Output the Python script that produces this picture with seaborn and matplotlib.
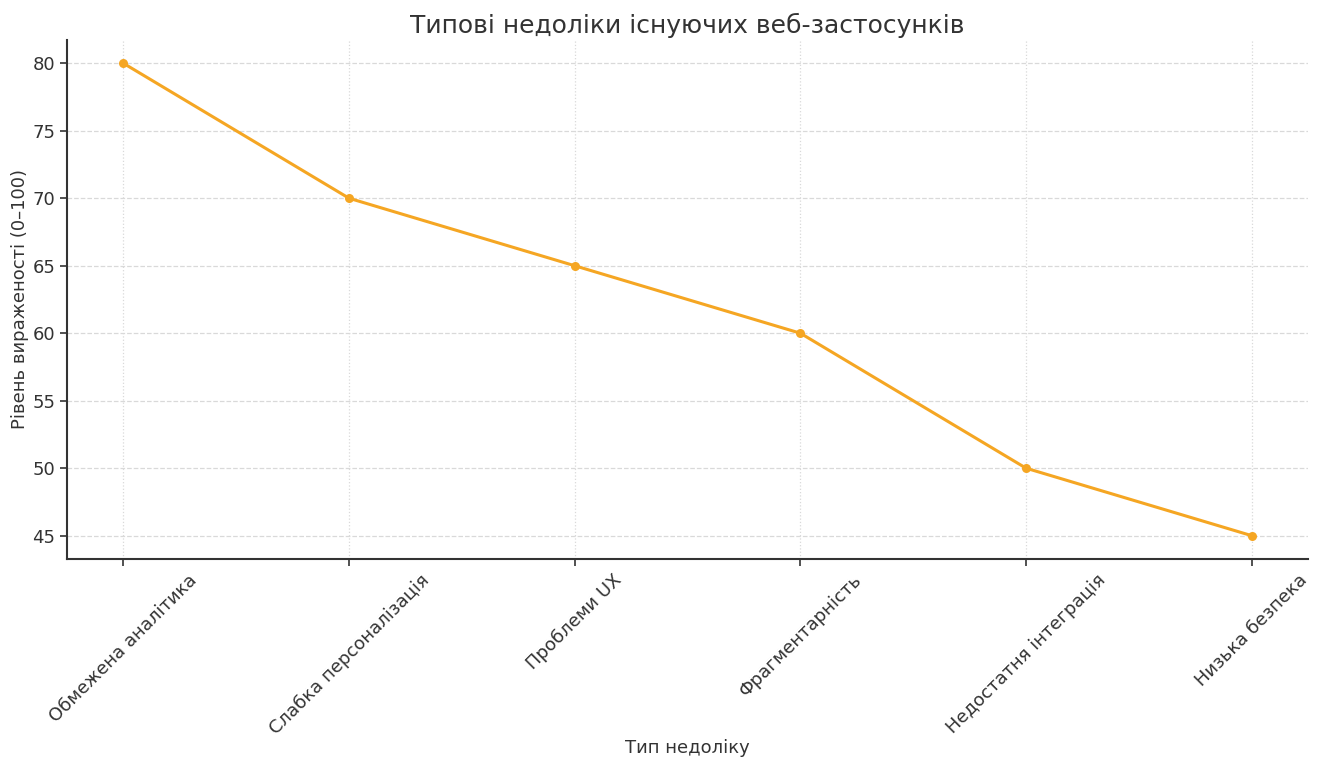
import matplotlib
matplotlib.use("Agg")
import matplotlib.pyplot as plt
import seaborn as sns
import pandas as pd

categories = [
    "Обмежена аналітика",
    "Слабка персоналізація",
    "Проблеми UX",
    "Фрагментарність",
    "Недостатня інтеграція",
    "Низька безпека",
]
severity = [80, 70, 65, 60, 50, 45]

df = pd.DataFrame({"Тип недоліку": categories, "Рівень": severity})

sns.set_theme(style="whitegrid")
plt.rcParams["font.family"] = ["DejaVu Sans"]

fig, ax = plt.subplots(figsize=(13.24, 7.63), dpi=100)
sns.lineplot(data=df, x="Тип недоліку", y="Рівень", marker="o", color="#F5A623",
             linewidth=2.2, markersize=6.5, markeredgewidth=0, sort=False, ax=ax)

ax.set_title("Типові недоліки існуючих веб-застосунків", fontsize=18, color="#333333", pad=5)
ax.set_xlabel("Тип недоліку", fontsize=13, color="#333333")
ax.set_ylabel("Рівень вираженості (0–100)", fontsize=13, color="#333333")
ax.xaxis.set_label_coords(0.5, -0.345)
ax.yaxis.set_label_coords(-0.031, 0.5)
ax.tick_params(axis="both", labelsize=13, colors="#333333", length=5, width=1.2,
               left=True, bottom=True)
plt.setp(ax.get_xticklabels(), rotation=45, ha="center")

ax.grid(True, axis="y", linestyle="--", color="#d9d9d9", linewidth=0.9)
ax.grid(True, axis="x", linestyle=":", color="#d9d9d9", linewidth=0.9)
for side in ["top", "right"]:
    ax.spines[side].set_visible(False)
for side in ["left", "bottom"]:
    ax.spines[side].set_color("#333333")
    ax.spines[side].set_linewidth(1.5)

ax.margins(x=0.05, y=0.05)
fig.subplots_adjust(left=0.0506, right=0.988, top=0.948, bottom=0.267)
fig.savefig("out.png", dpi=100, facecolor="white")
